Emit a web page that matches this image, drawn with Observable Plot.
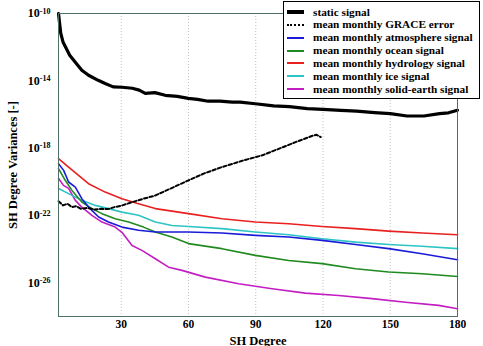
<!DOCTYPE html>
<html>
<head>
<meta charset="utf-8">
<script src="https://cdn.jsdelivr.net/npm/d3@7"></script>
<script src="https://cdn.jsdelivr.net/npm/@observablehq/plot@0.6"></script>
<style>
  html, body { margin: 0; padding: 0; background: #fff; }
  #wrap { position: relative; width: 483px; height: 346px; }
  #legend { position: absolute; left: 283px; top: 1px; width: 197px; height: 98px;
    border: 1.3px solid #000; background: #fff; box-sizing: border-box;
    font-family: 'Liberation Serif', 'Times New Roman', Tinos, serif; font-weight: bold; font-size: 11.3px; }
  .row { position: absolute; left: 0; height: 13px; line-height: 13px; white-space: nowrap; }
  .sw { position: absolute; left: 3px; width: 17px; top: 6px; }
  .lb { position: absolute; left: 29px; top: 0; }
  svg text { font-family: 'Liberation Serif', 'Times New Roman', Tinos, serif; }
</style>
</head>
<body>
<div id="wrap"><div id="chart"></div><div id="legend"></div></div>
<script>
// ---- data (exponents: value = 10^exp) ----
const seriesNames = ["static signal","mean monthly GRACE error","mean monthly atmosphere signal","mean monthly ocean signal","mean monthly hydrology signal","mean monthly ice signal","mean monthly solid-earth signal"];
const seriesColors = ["#000000","#000000","#1a1ad8","#1f8a1f","#e82020","#2ec4c4","#c21ec2"];

const staticDeg = [2,3,4,7,9.5,12.4,15.4,19.7,22.8,26.4,30.4,34.9,38,40.7,45,49.6,55,59.9,64,68.8,74,79.5,83,89.8,98,105,113,120,128,135,143,150,157.5,165,172,176,180];
const staticExp = [-10.0,-11.17,-11.69,-12.48,-12.9,-13.37,-13.67,-13.97,-14.16,-14.36,-14.38,-14.44,-14.55,-14.74,-14.7,-14.86,-14.92,-15.04,-15.1,-15.21,-15.2,-15.27,-15.26,-15.36,-15.49,-15.53,-15.65,-15.7,-15.75,-15.8,-15.89,-15.95,-16.09,-16.09,-15.95,-15.9,-15.75];

const graceDeg = [2,4,6,8,10,12,15,18,21,24,27,30,35,40,45,52,60,67,75,84,93,101,108,115,117,119];
const graceExp = [-21.15,-21.4,-21.3,-21.5,-21.45,-21.6,-21.55,-21.65,-21.6,-21.62,-21.5,-21.42,-21.2,-21.0,-20.82,-20.4,-19.91,-19.5,-19.12,-18.75,-18.42,-18.0,-17.63,-17.28,-17.2,-17.34];

const atmoDeg = [2,4.3,6.5,9.5,12.4,15.4,19.9,24.3,30.3,37.7,45.2,60,74.9,89.8,104.7,119.6,134.5,149.3,164.2,180];
const atmoExp = [-18.92,-19.32,-20.01,-20.31,-21.0,-21.5,-22.09,-22.39,-22.69,-22.88,-22.98,-22.98,-23.04,-23.18,-23.28,-23.48,-23.72,-23.97,-24.27,-24.63];

const oceanDeg = [2,5,8,12.4,16.9,21.4,27.3,33.3,39.9,45.2,52.6,60,74.9,89.8,104.7,119.6,134.5,149.3,164.2,180];
const oceanExp = [-19.22,-19.91,-20.51,-21.2,-21.59,-21.89,-22.19,-22.39,-22.69,-22.98,-23.28,-23.67,-23.97,-24.37,-24.67,-24.86,-25.16,-25.36,-25.46,-25.62];

const hydroDeg = [2,6.5,15.4,22.8,30.3,37.7,45.2,52.6,60,74.9,89.8,104.7,119.6,134.5,149.3,164.2,180];
const hydroExp = [-18.62,-19.12,-20.11,-20.61,-21.0,-21.3,-21.59,-21.74,-21.89,-22.19,-22.39,-22.49,-22.65,-22.78,-22.93,-23.04,-23.14];

const iceDeg = [2,6.5,12.4,18.4,24.3,30.3,37.7,45.2,52.6,60,74.9,89.8,104.7,119.6,134.5,149.3,164.2,180];
const iceExp = [-20.4,-20.7,-21.1,-21.4,-21.59,-21.8,-21.99,-22.39,-22.59,-22.65,-22.78,-22.98,-23.14,-23.38,-23.58,-23.72,-23.83,-23.97];

const solidDeg = [2,4.2,6.5,9.5,12.4,16.9,21.4,27.3,30.3,34.8,39.2,45.2,51.1,57.1,67.5,82.4,97.3,112.1,127,141.9,156.8,171.6,180];
const solidExp = [-19.79,-20.21,-20.39,-21.1,-21.5,-21.99,-22.39,-22.69,-23.0,-23.78,-24.07,-24.57,-25.07,-25.26,-25.66,-26.05,-26.35,-26.61,-26.75,-26.94,-27.15,-27.34,-27.54];

const xTicks = [30,60,90,120,150,180];
const yTicks = [1e-10,1e-14,1e-18,1e-22,1e-26];

// ---- build ----
const toRows = (deg, ex) => deg.map((d,i) => ({deg: d, v: Math.pow(10, ex[i])}));
const rows = [
  toRows(staticDeg, staticExp), toRows(graceDeg, graceExp), toRows(atmoDeg, atmoExp),
  toRows(oceanDeg, oceanExp), toRows(hydroDeg, hydroExp), toRows(iceDeg, iceExp), toRows(solidDeg, solidExp)
];
const widths = [3.2, 2, 1.6, 1.6, 1.6, 1.6, 1.6];

const drawOrder = [6,5,3,2,4,1,0];
const lineMarks = drawOrder.map(i => Plot.line(rows[i], {
  x: "deg", y: "v", stroke: seriesColors[i], strokeWidth: widths[i],
  strokeDasharray: i === 1 ? "3.5,2.2" : null, strokeLinejoin: "round"
}));

const chart = Plot.plot({
  width: 483, height: 346,
  marginLeft: 58, marginRight: 26, marginTop: 13, marginBottom: 30,
  style: {fontWeight: "bold", fontSize: "12px", background: "#fff", color: "#000"},
  x: {domain: [2, 180]},
  y: {type: "log", domain: [1e-28, 1e-10]},
  marks: [
    Plot.gridX(xTicks.filter(t => t < 180), {stroke: "#b0b0b0", strokeOpacity: 0.8, strokeDasharray: "1,2"}),
    Plot.gridY(yTicks.filter(t => t > 1e-10), {stroke: "#b0b0b0", strokeOpacity: 0.8, strokeDasharray: "1,2"}),
    ...lineMarks,
    Plot.frame({stroke: "#4f6f6a", strokeWidth: 1}),
    Plot.axisX(xTicks, {tickSize: 0, tickPadding: 3, fontSize: 11.5, label: null}),
    Plot.axisX({label: "SH Degree", ticks: [], tickSize: 0, labelAnchor: "center", labelOffset: 28, labelArrow: "none"}),
    Plot.axisY(yTicks, {tickSize: 0, tickPadding: 8, tickFormat: d => String(Math.round(Math.log10(d))),
      label: "SH Degree Variances [-]", labelAnchor: "center", labelOffset: 50, labelArrow: "none"})
  ]
});
document.getElementById("chart").appendChild(chart);

// superscript tick labels 10^n
d3.select(chart).selectAll('g[aria-label="y-axis tick label"] text').each(function() {
  const e = this.textContent;
  const t = d3.select(this);
  t.text(null);
  t.append("tspan").text("10");
  t.append("tspan").attr("dy", "-0.45em").attr("font-size", "8px").text(e);
});
d3.select(chart).selectAll('g[aria-label="y-axis label"] text, g[aria-label="x-axis label"] text')
  .attr("font-size", "12.5px");

// legend
const lg = document.getElementById("legend");
seriesNames.forEach((name, i) => {
  const r = document.createElement("div");
  r.className = "row";
  r.style.top = (3.5 + i * 12.85) + "px";
  const sw = document.createElement("div");
  sw.className = "sw";
  const w = i === 0 ? 4 : 2;
  if (i === 1) {
    sw.style.borderTop = "2px dotted #000";
    sw.style.top = (6.5 - 1) + "px";
  } else {
    sw.style.height = w + "px";
    sw.style.background = seriesColors[i];
    sw.style.top = (6.5 - w / 2) + "px";
  }
  const lb = document.createElement("div");
  lb.className = "lb";
  lb.textContent = name;
  r.appendChild(sw); r.appendChild(lb);
  lg.appendChild(r);
});
</script>
</body>
</html>
